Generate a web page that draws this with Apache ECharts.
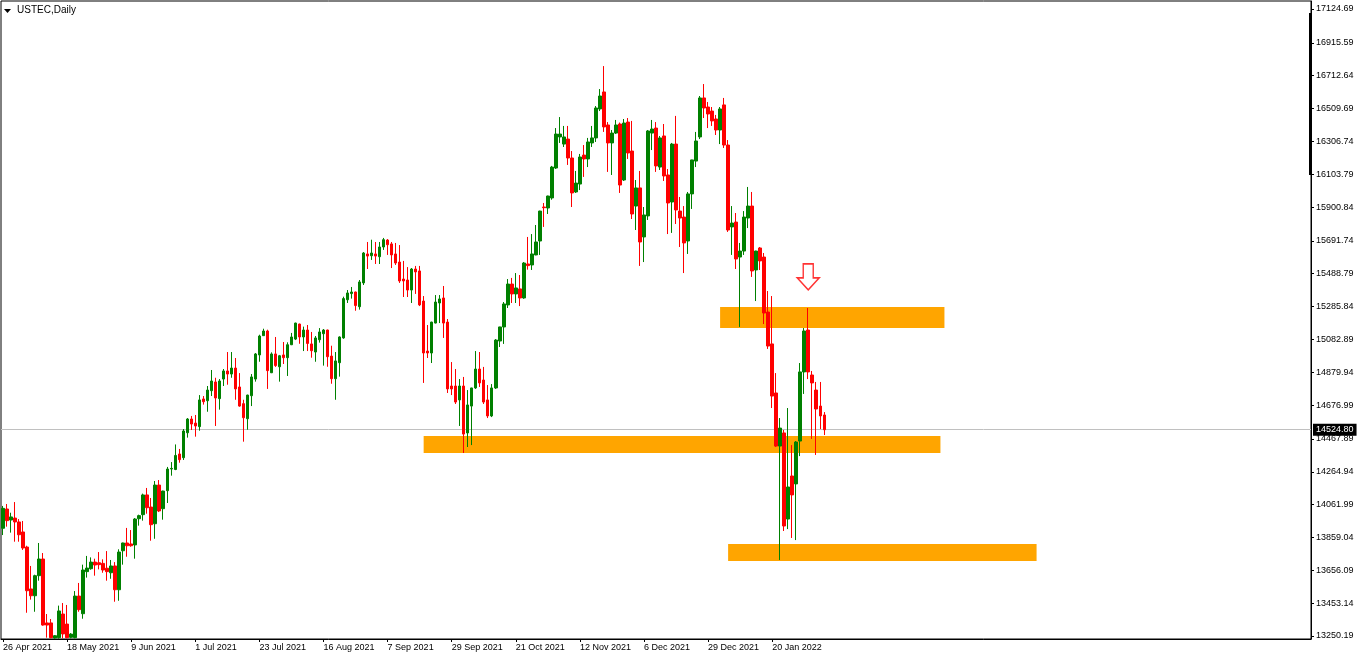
<!DOCTYPE html>
<html><head><meta charset="utf-8">
<script src="https://cdn.jsdelivr.net/npm/echarts@6/dist/echarts.min.js"></script>
<style>html,body{margin:0;padding:0;background:#fff}#c{width:1362px;height:660px}</style>
</head><body><div id="c"></div>
<script>
// [open, close, low, high]
const candles = [
[13916,14039,13874,14054],[14035,13963,13926,14066],[13967,13986,13889,14012],[13979,13955,13833,14078],[13955,13876,13833,13973],
[13893,13794,13782,13961],[13800,13530,13394,13808],[13541,13499,13475,13683],[13499,13623,13400,13629],[13623,13726,13592,13825],
[13726,13318,13314,13763],[13331,13318,13240,13386],[13331,13240,13236,13355],[13238,13252,13234,13256],[13240,13405,13234,13438],
[13386,13263,13236,13454],[13324,13240,13236,13442],[13242,13262,13236,13268],[13240,13497,13236,13528],[13497,13413,13400,13578],
[13388,13658,13357,13691],[13648,13670,13611,13745],[13666,13707,13660,13736],[13707,13689,13623,13728],[13703,13691,13662,13769],
[13699,13658,13641,13724],[13669,13648,13592,13775],[13641,13683,13604,13720],[13683,13536,13462,13707],[13536,13769,13468,13786],
[13777,13825,13691,13827],[13825,13808,13740,13918],[13819,13808,13802,13905],[13813,13973,13728,13979],[13975,13994,13932,14000],
[14000,14122,13963,14130],[14122,14043,14006,14165],[14047,13938,13839,14103],[13944,14183,13851,14208],[14183,14023,14016,14214],
[14037,14146,13969,14148],[14148,14282,14072,14295],[14282,14286,14241,14325],[14279,14366,14275,14434],[14375,14340,14321,14406],
[14352,14517,14338,14529],[14506,14591,14476,14597],[14591,14560,14523,14610],[14566,14548,14482,14616],[14544,14709,14519,14739],
[14715,14698,14680,14733],[14704,14770,14636,14795],[14766,14826,14733,14894],[14820,14721,14548,14846],[14717,14826,14649,14838],
[14838,14888,14795,14900],[14888,14869,14803,15005],[14869,14906,14846,15005],[14906,14777,14710,14968],[14789,14671,14667,14875],
[14686,14599,14451,14710],[14593,14739,14525,14741],[14735,14851,14671,14869],[14838,14993,14822,14999],[14987,15104,14945,15112],
[15106,15135,15104,15149],[15135,14890,14777,15143],[14877,14993,14875,15003],[14993,14921,14913,15098],[14914,14982,14822,14987],
[14987,14970,14931,15067],[14970,15050,14857,15065],[15050,15098,15048,15123],[15085,15184,15079,15186],[15178,15098,15056,15180],
[15098,15141,15011,15162],[15141,15058,15011,15172],[15055,15013,14970,15129],[15005,15092,14945,15104],[15081,15129,15063,15153],
[15118,15141,14921,15147],[15141,14976,14914,15143],[14980,14840,14809,15044],[14840,14950,14710,15005],[14939,15098,14853,15102],
[15092,15335,15087,15347],[15328,15370,15308,15388],[15366,15376,15335,15407],[15376,15292,15260,15378],[15285,15438,15267,15450],
[15432,15617,15419,15623],[15611,15598,15518,15685],[15600,15617,15574,15699],[15611,15598,15549,15685],[15594,15654,15549,15685],
[15654,15699,15636,15710],[15697,15668,15605,15703],[15673,15605,15524,15685],[15611,15555,15543,15679],[15561,15444,15432,15666],
[15456,15444,15345,15568],[15450,15388,15345,15530],[15388,15518,15308,15524],[15518,15500,15364,15537],[15506,15296,15289,15537],
[15320,14999,14814,15351],[15011,14999,14968,15172],[14999,15190,14937,15192],[15184,15314,15182,15357],[15308,15333,15184,15357],
[15339,15184,15092,15413],[15190,14777,14752,15209],[14795,14777,14739,14943],[14795,14696,14684,14900],[14709,14795,14548,14838],
[14795,14498,14381,14851],[14505,14678,14418,14770],[14671,14783,14430,14784],[14783,14900,14777,15011],[14900,14814,14789,15005],
[14832,14696,14684,14913],[14709,14610,14597,14801],[14610,14783,14603,14807],[14783,15079,14777,15085],[15073,15160,15036,15161],
[15160,15302,15055,15314],[15296,15425,15277,15456],[15425,15364,15308,15463],[15364,15401,15308,15493],[15395,15339,15289,15481],
[15339,15555,15334,15561],[15549,15539,15514,15716],[15543,15611,15512,15734],[15605,15685,15603,15790],[15691,15876,15605,15878],
[15901,15897,15778,15926],[15895,15969,15858,15971],[15957,16148,15946,16155],[16142,16352,16136,16389],[16334,16352,16297,16457],
[16290,16334,16272,16402],[16321,16204,16161,16402],[16204,15988,15901,16247],[15994,16049,15988,16124],[16043,16210,16006,16229],
[16222,16198,16087,16284],[16198,16303,16148,16328],[16297,16328,16272,16402],[16328,16513,16303,16525],[16507,16587,16494,16630],
[16612,16396,16365,16772],[16408,16297,16118,16426],[16297,16358,16099,16377],[16358,16408,16352,16439],[16414,16037,15988,16423],
[16068,16420,16062,16445],[16426,16235,16198,16451],[16247,15858,15827,16433],[15907,16019,15759,16068],[16019,15685,15537,16124],
[15716,15852,15561,15901],[15846,16371,15821,16377],[16358,16383,16253,16439],[16389,16155,16118,16426],[16148,16328,16130,16340],
[16340,16093,16062,16414],[16099,15926,15734,16136],[15932,16290,15741,16297],[16290,15883,15796,16464],[15876,15833,15654,15963],
[15839,15679,15493,15907],[15691,15982,15611,15994],[15982,16192,15889,16193],[16185,16309,16148,16365],[16334,16575,16321,16587],
[16575,16513,16451,16661],[16519,16476,16389,16550],[16494,16433,16402,16519],[16445,16377,16346,16470],[16377,16507,16290,16519],
[16532,16284,16266,16575],[16284,15759,15747,16315],[15778,15802,15605,15907],[15808,15580,15518,15864],[15592,15629,15160,15679],
[15629,15839,15605,15876],[15833,15907,15771,16025],[15907,15506,15469,15994],[15512,15629,15320,15631],[15648,15568,15512,15654],
[15592,15246,15178,15617],[15252,15042,15024,15382],[15055,14733,14659,15351],[14752,14424,14418,14875],[14424,14535,13720,14597],
[14505,13930,13899,14523],[13973,14171,13911,14659],[14239,14122,13856,14430],[14190,14449,13843,14455],[14455,14882,14362,14937],
[14882,15135,14746,15153],[15141,14882,14838,15277],[14863,14814,14468,14888],[14770,14653,14369,14820],[14671,14610,14529,14820],
[14616,14524.8,14492,14634]
];
const dateLabels = ['26 Apr 2021','18 May 2021','9 Jun 2021','1 Jul 2021','23 Jul 2021','16 Aug 2021','7 Sep 2021','29 Sep 2021','21 Oct 2021','12 Nov 2021','6 Dec 2021','29 Dec 2021','20 Jan 2022'];
const labelStep = 16;      // bars between date labels
const totalSlots = 327;    // bar slots visible in the window (incl. empty right margin)
const priceTicks = [17124.69,16915.59,16712.64,16509.69,16306.74,16103.79,15900.84,15691.74,15488.79,15285.84,15082.89,14879.94,14676.99,14467.89,14264.94,14061.99,13859.04,13656.09,13453.14,13250.19];
const priceMin = 13231.7, priceMax = 17174.1;
const lastPrice = 14524.80;
// zones: [fromBar, toBar, topPrice, bottomPrice]
const zones = [[179,235,15283,15154],[105,234,14486,14381],[181,258,13819,13714]];
const arrowMarks = [[201,15469]];
const title = 'USTEC,Daily';

const slots = [];
for (let i = 0; i < totalSlots; i++) slots.push(String(i));
const showIdx = (i) => i % labelStep === 0 && i / labelStep < dateLabels.length;
const FONT = 'Liberation Sans';

const chart = echarts.init(document.getElementById('c'), null, {renderer:'canvas'});
chart.setOption({
  animation:false,
  textStyle:{fontFamily:FONT},
  grid:{left:1, right:51, top:1, bottom:21, show:true, borderColor:'#000', borderWidth:1, backgroundColor:'#fff'},
  xAxis:{
    type:'category', data:slots, boundaryGap:true,
    axisLine:{show:true, lineStyle:{color:'#000', width:1}},
    axisTick:{show:true, alignWithLabel:true, interval:showIdx, length:3, lineStyle:{color:'#000'}},
    axisLabel:{interval:showIdx, align:'left', margin:4, fontSize:9, color:'#000', fontFamily:FONT,
      formatter:(v, idx) => dateLabels[idx / labelStep] || ''},
    splitLine:{show:false}
  },
  yAxis:{
    type:'value', position:'right', min:priceMin, max:priceMax, scale:true,
    axisLine:{show:true, lineStyle:{color:'#000', width:1}},
    axisTick:{show:true, length:3, customValues:priceTicks, lineStyle:{color:'#000'}},
    axisLabel:{customValues:priceTicks, margin:5, fontSize:9, color:'#000', fontFamily:FONT,
      formatter:(v) => v.toFixed(2)},
    splitLine:{show:false}
  },
  graphic:[
    {type:'polygon', shape:{points:[[4,9],[11,9],[7.5,13]]}, style:{fill:'#000'}},
    {type:'text', left:17, top:5, style:{text:title, fontSize:10, fontFamily:FONT, fill:'#000'}},
    {type:'rect', shape:{x:1309, y:13, width:3, height:162}, style:{fill:'#000'}}
  ],
  series:[
    {
      type:'scatter', data:[], z:1,
      markArea:{silent:true, itemStyle:{color:'#ffa500', opacity:1},
        data: zones.map(z => [{xAxis:z[0], yAxis:z[2]}, {xAxis:z[1], yAxis:z[3]}])}
    },
    {
      type:'candlestick', z:3, barWidth:3,
      data:candles,
      itemStyle:{color:'#008000', color0:'#ff0000', borderColor:'#008000', borderColor0:'#ff0000', borderWidth:1},
      markLine:{silent:true, symbol:'none', z:2,
        lineStyle:{color:'#c0c0c0', type:'solid', width:1},
        label:{show:true, position:'end', distance:2, formatter:() => lastPrice.toFixed(2),
          backgroundColor:'#000', color:'#fff', fontSize:9, fontFamily:FONT, padding:[2,3,1,3]},
        data:[{yAxis:lastPrice}]}
    },
    {
      type:'scatter', z:4, data:arrowMarks,
      symbol:'path://M6,0H16V14H22L11,26L0,14H6Z', symbolSize:[22,26],
      itemStyle:{color:'#fff', borderColor:'#ff0000', borderWidth:1.5}
    }
  ]
});
</script></body></html>
